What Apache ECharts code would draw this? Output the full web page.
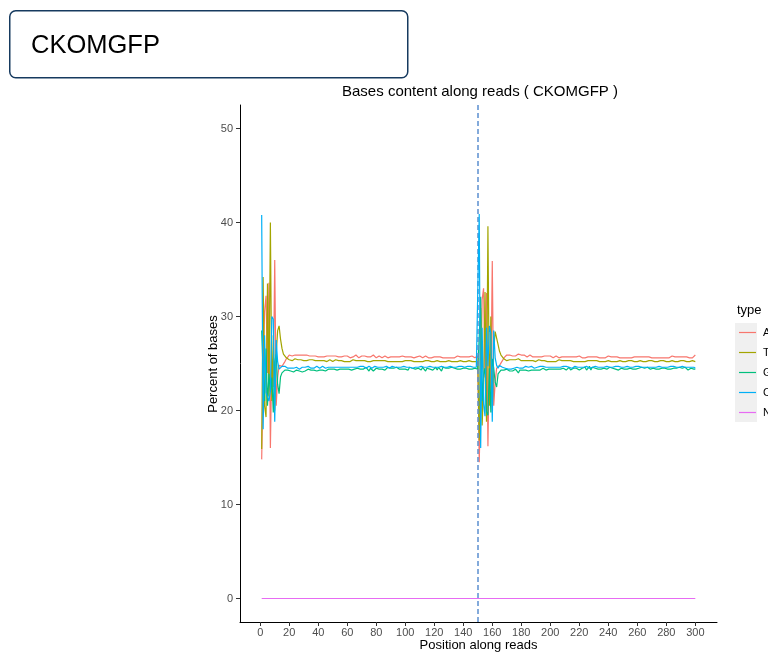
<!DOCTYPE html>
<html>
<head>
<meta charset="utf-8">
<script src="https://cdn.jsdelivr.net/npm/echarts@6/dist/echarts.min.js"></script>
<style>
  html, body { margin: 0; padding: 0; background: #ffffff; }
  #chart { width: 768px; height: 660px; }
</style>
</head>
<body>
<div id="chart"></div>
<script>
// Sample name shown in the header box and the title
const sampleName = 'CKOMGFP';

// Base types, in legend order, with their colours
const baseTypes = ['A', 'T', 'G', 'C', 'N'];
const baseColors = ['#F8766D', '#A3A500', '#00BF7D', '#00B0F6', '#E76BF3'];

// Read positions 1..300 (read 1 = 1..150, read 2 = 151..300)
const positions = Array.from({ length: 300 }, (_, i) => i + 1);

// Boundary between the two reads
const readBoundary = 150;

// Axis titles
const xTitle = 'Position along reads';
const yTitle = 'Percent of bases';

// Axis tick labels
const xTicks = [0, 20, 40, 60, 80, 100, 120, 140, 160, 180, 200, 220, 240, 260, 280, 300];
const yTicks = [0, 10, 20, 30, 40, 50];

// Percent of A at each position
const baseA = [
  // 1-20
  14.8, 23.8, 30.5, 32.2, 24.0, 33.6, 16.0, 25.5, 22.5, 36.0,
  20.5, 23.5, 24.8, 24.6, 24.7, 24.9, 25.2, 25.5, 25.7, 25.9,
  // 21-150
  25.9, 25.8, 26.0, 25.9, 25.8, 25.9, 26.1, 25.9, 25.8, 25.9,
  25.8, 25.9, 25.7, 25.8, 25.9, 25.8, 25.7, 25.8, 25.9, 25.7,
  25.8, 25.7, 25.8, 25.7, 25.9, 25.8, 25.7, 25.8, 25.7, 25.8,
  25.7, 25.8, 25.9, 25.7, 25.8, 25.7, 25.6, 25.8, 25.7, 25.8,
  25.7, 25.6, 25.8, 25.7, 25.8, 25.9, 25.7, 25.6, 25.7, 25.8,
  25.7, 25.8, 25.6, 25.7, 25.8, 25.7, 25.7, 25.9, 25.7, 25.6,
  25.7, 25.8, 25.7, 25.6, 25.7, 25.8, 25.7, 25.6, 25.8, 25.7,
  25.6, 25.7, 25.8, 25.7, 25.6, 25.7, 25.7, 25.8, 25.6, 25.7,
  25.8, 25.7, 25.6, 25.7, 25.8, 25.6, 25.7, 25.7, 25.6, 25.8,
  25.7, 25.6, 25.7, 25.8, 25.7, 25.6, 25.7, 25.6, 25.8, 25.7,
  25.6, 25.7, 25.6, 25.7, 25.8, 25.6, 25.7, 25.6, 25.7, 25.6,
  25.7, 25.6, 25.7, 25.6, 25.7, 25.8, 25.6, 25.7, 25.6, 25.7,
  25.6, 25.7, 25.6, 25.7, 25.6, 25.8, 25.7, 25.6, 25.7, 25.8,
  // 151-170
  14.5, 21.0, 31.8, 33.0, 23.5, 32.5, 16.2, 26.0, 22.0, 35.9,
  20.5, 23.0, 24.5, 24.6, 24.8, 25.0, 25.3, 25.6, 25.8, 25.9,
  // 171-300
  25.8, 25.9, 26.0, 25.8, 25.9, 25.8, 25.9, 26.0, 25.8, 25.9,
  25.8, 25.9, 25.8, 25.7, 25.8, 25.9, 25.8, 25.7, 25.8, 25.7,
  25.8, 25.7, 25.8, 25.7, 25.6, 25.8, 25.7, 25.8, 25.7, 25.8,
  25.7, 25.6, 25.7, 25.8, 25.7, 25.6, 25.8, 25.7, 25.6, 25.7,
  25.8, 25.7, 25.6, 25.7, 25.8, 25.7, 25.6, 25.7, 25.6, 25.8,
  25.7, 25.6, 25.7, 25.6, 25.8, 25.7, 25.6, 25.7, 25.6, 25.7,
  25.6, 25.7, 25.8, 25.6, 25.7, 25.6, 25.7, 25.6, 25.7, 25.8,
  25.6, 25.7, 25.6, 25.7, 25.6, 25.7, 25.8, 25.6, 25.7, 25.6,
  25.7, 25.6, 25.7, 25.6, 25.7, 25.6, 25.8, 25.7, 25.6, 25.7,
  25.6, 25.7, 25.6, 25.7, 25.6, 25.7, 25.6, 25.7, 25.8, 25.6,
  25.7, 25.6, 25.7, 25.6, 25.7, 25.6, 25.7, 25.6, 25.7, 25.6,
  25.7, 25.6, 25.7, 25.8, 25.6, 25.7, 25.6, 25.7, 25.6, 25.7,
  25.6, 25.7, 25.6, 25.7, 25.8, 25.6, 25.7, 25.6, 25.8, 25.9
];

// Percent of T at each position
const baseT = [
  // 1-20
  15.9, 34.2, 20.5, 19.3, 33.5, 21.5, 40.0, 21.0, 28.0, 20.0,
  26.0, 28.5, 29.0, 27.6, 26.6, 26.0, 25.8, 25.6, 25.5, 25.4,
  // 21-150
  25.4, 25.3, 25.4, 25.5, 25.3, 25.4, 25.3, 25.4, 25.5, 25.3,
  25.4, 25.3, 25.2, 25.4, 25.3, 25.4, 25.5, 25.3, 25.2, 25.3,
  25.4, 25.3, 25.2, 25.3, 25.4, 25.2, 25.3, 25.4, 25.3, 25.2,
  25.3, 25.4, 25.2, 25.3, 25.2, 25.3, 25.4, 25.2, 25.3, 25.2,
  25.3, 25.2, 25.3, 25.4, 25.2, 25.3, 25.2, 25.3, 25.2, 25.3,
  25.2, 25.3, 25.3, 25.2, 25.3, 25.2, 25.4, 25.3, 25.2, 25.3,
  25.2, 25.3, 25.2, 25.3, 25.2, 25.3, 25.2, 25.2, 25.3, 25.2,
  25.3, 25.2, 25.3, 25.2, 25.3, 25.2, 25.3, 25.2, 25.2, 25.3,
  25.2, 25.3, 25.2, 25.3, 25.2, 25.2, 25.3, 25.2, 25.3, 25.2,
  25.3, 25.2, 25.2, 25.3, 25.2, 25.3, 25.2, 25.2, 25.3, 25.2,
  25.2, 25.3, 25.2, 25.2, 25.3, 25.2, 25.3, 25.2, 25.2, 25.3,
  25.2, 25.2, 25.3, 25.2, 25.3, 25.2, 25.2, 25.3, 25.2, 25.2,
  25.3, 25.2, 25.2, 25.3, 25.2, 25.2, 25.3, 25.2, 25.3, 25.2,
  // 151-170
  16.8, 30.9, 18.4, 22.5, 32.6, 18.8, 39.6, 20.5, 30.0, 19.8,
  26.5, 28.4, 28.2, 27.0, 26.3, 25.9, 25.7, 25.5, 25.4, 25.3,
  // 171-300
  25.3, 25.4, 25.5, 25.4, 25.3, 25.4, 25.3, 25.5, 25.4, 25.3,
  25.4, 25.3, 25.2, 25.3, 25.4, 25.3, 25.2, 25.3, 25.4, 25.2,
  25.3, 25.4, 25.2, 25.3, 25.2, 25.3, 25.4, 25.2, 25.3, 25.2,
  25.3, 25.2, 25.3, 25.2, 25.3, 25.4, 25.2, 25.3, 25.2, 25.3,
  25.2, 25.3, 25.2, 25.3, 25.2, 25.2, 25.3, 25.2, 25.3, 25.2,
  25.3, 25.2, 25.3, 25.2, 25.2, 25.3, 25.2, 25.3, 25.2, 25.3,
  25.2, 25.3, 25.2, 25.2, 25.3, 25.2, 25.3, 25.2, 25.2, 25.3,
  25.2, 25.2, 25.3, 25.2, 25.3, 25.2, 25.2, 25.3, 25.2, 25.2,
  25.3, 25.2, 25.2, 25.3, 25.2, 25.3, 25.2, 25.2, 25.3, 25.2,
  25.2, 25.3, 25.2, 25.2, 25.3, 25.2, 25.2, 25.3, 25.2, 25.3,
  25.2, 25.2, 25.3, 25.2, 25.2, 25.3, 25.2, 25.3, 25.2, 25.2,
  25.3, 25.2, 25.2, 25.3, 25.2, 25.2, 25.3, 25.2, 25.2, 25.3,
  25.2, 25.3, 25.2, 25.2, 25.3, 25.2, 25.2, 25.3, 25.2, 25.2
];

// Percent of G at each position
const baseG = [
  // 1-20
  28.5, 24.0, 21.0, 26.6, 20.5, 23.9, 22.0, 23.5, 19.8, 25.2,
  26.0, 22.8, 21.8, 23.6, 24.0, 24.2, 24.3, 24.3, 24.3, 24.2,
  // 21-150
  24.2, 24.3, 24.1, 24.2, 24.3, 24.2, 24.2, 24.2, 24.1, 24.3,
  24.2, 24.3, 24.4, 24.2, 24.3, 24.2, 24.3, 24.3, 24.2, 24.4,
  24.3, 24.4, 24.3, 24.4, 24.2, 24.3, 24.4, 24.3, 24.4, 24.3,
  24.4, 24.3, 24.3, 24.3, 24.4, 24.5, 24.4, 24.3, 24.4, 24.5,
  24.4, 24.5, 24.3, 24.4, 24.4, 24.3, 24.5, 24.5, 24.4, 24.3,
  24.4, 24.3, 24.6, 24.5, 24.2, 24.5, 24.4, 24.2, 24.4, 24.5,
  24.5, 24.4, 24.5, 24.4, 24.5, 24.3, 24.4, 24.6, 24.4, 24.5,
  24.4, 24.5, 24.3, 24.6, 24.5, 24.4, 24.4, 24.4, 24.5, 24.4,
  24.4, 24.3, 24.6, 24.4, 24.5, 24.5, 24.4, 24.4, 24.5, 24.4,
  24.3, 24.6, 24.5, 24.2, 24.5, 24.5, 24.4, 24.6, 24.3, 24.4,
  24.6, 24.3, 24.6, 24.5, 24.2, 24.6, 24.4, 24.5, 24.5, 24.5,
  24.4, 24.6, 24.4, 24.5, 24.4, 24.4, 24.4, 24.4, 24.4, 24.5,
  24.5, 24.5, 24.5, 24.4, 24.5, 24.4, 24.5, 24.5, 24.4, 24.4,
  // 151-170
  27.8, 32.1, 21.0, 23.8, 24.5, 19.9, 19.5, 24.5, 19.8, 25.5,
  24.5, 23.0, 22.5, 23.9, 24.1, 24.3, 24.4, 24.3, 24.3, 24.4,
  // 171-300
  24.5, 24.2, 24.1, 24.2, 24.3, 24.4, 24.2, 24.0, 24.3, 24.2,
  24.3, 24.2, 24.3, 24.5, 24.2, 24.3, 24.3, 24.4, 24.3, 24.5,
  24.3, 24.4, 24.3, 24.4, 24.5, 24.4, 24.3, 24.3, 24.4, 24.5,
  24.4, 24.5, 24.4, 24.5, 24.4, 24.3, 24.4, 24.5, 24.5, 24.4,
  24.3, 24.4, 24.6, 24.3, 24.5, 24.5, 24.4, 24.5, 24.5, 24.3,
  24.4, 24.5, 24.4, 24.6, 24.3, 24.4, 24.7, 24.3, 24.6, 24.4,
  24.5, 24.4, 24.4, 24.5, 24.4, 24.5, 24.5, 24.6, 24.4, 24.3,
  24.6, 24.4, 24.5, 24.5, 24.4, 24.5, 24.3, 24.5, 24.5, 24.5,
  24.4, 24.6, 24.4, 24.5, 24.5, 24.4, 24.4, 24.5, 24.4, 24.5,
  24.5, 24.4, 24.6, 24.4, 24.5, 24.4, 24.6, 24.4, 24.4, 24.4,
  24.5, 24.5, 24.4, 24.6, 24.4, 24.5, 24.5, 24.4, 24.5, 24.5,
  24.4, 24.6, 24.4, 24.3, 24.5, 24.5, 24.5, 24.4, 24.6, 24.4,
  24.5, 24.4, 24.6, 24.4, 24.3, 24.5, 24.5, 24.4, 24.4, 24.4
];

// Percent of C at each position
const baseC = [
  // 1-20
  40.8, 18.0, 28.0, 21.9, 22.0, 21.0, 22.0, 30.0, 29.7, 18.8,
  27.5, 25.2, 24.4, 24.2, 24.7, 24.9, 24.7, 24.6, 24.5, 24.5,
  // 21-150
  24.5, 24.6, 24.5, 24.4, 24.6, 24.5, 24.4, 24.5, 24.6, 24.5,
  24.6, 24.5, 24.7, 24.6, 24.5, 24.6, 24.5, 24.6, 24.7, 24.6,
  24.5, 24.6, 24.7, 24.6, 24.5, 24.7, 24.6, 24.5, 24.6, 24.7,
  24.6, 24.5, 24.6, 24.7, 24.6, 24.5, 24.6, 24.7, 24.6, 24.5,
  24.6, 24.7, 24.6, 24.5, 24.6, 24.7, 24.6, 24.6, 24.7, 24.6,
  24.7, 24.6, 24.5, 24.6, 24.7, 24.6, 24.5, 24.6, 24.7, 24.6,
  24.6, 24.5, 24.6, 24.7, 24.6, 24.6, 24.7, 24.6, 24.5, 24.6,
  24.7, 24.6, 24.6, 24.5, 24.6, 24.7, 24.6, 24.6, 24.7, 24.6,
  24.6, 24.7, 24.6, 24.6, 24.5, 24.7, 24.6, 24.7, 24.6, 24.6,
  24.7, 24.6, 24.6, 24.7, 24.6, 24.6, 24.7, 24.6, 24.6, 24.7,
  24.6, 24.7, 24.6, 24.6, 24.7, 24.6, 24.6, 24.7, 24.6, 24.6,
  24.7, 24.6, 24.6, 24.7, 24.6, 24.6, 24.7, 24.6, 24.7, 24.6,
  24.6, 24.6, 24.7, 24.6, 24.7, 24.6, 24.6, 24.7, 24.6, 24.6,
  // 151-170
  40.9, 16.0, 28.8, 20.7, 19.4, 28.8, 24.7, 29.0, 28.2, 18.8,
  28.5, 25.6, 24.8, 24.5, 24.8, 24.8, 24.6, 24.6, 24.5, 24.4,
  // 171-300
  24.4, 24.5, 24.4, 24.6, 24.5, 24.4, 24.6, 24.5, 24.5, 24.6,
  24.5, 24.6, 24.7, 24.5, 24.6, 24.5, 24.7, 24.6, 24.5, 24.6,
  24.6, 24.5, 24.7, 24.6, 24.7, 24.5, 24.6, 24.7, 24.6, 24.5,
  24.6, 24.7, 24.6, 24.5, 24.6, 24.7, 24.6, 24.5, 24.7, 24.6,
  24.7, 24.6, 24.6, 24.7, 24.5, 24.6, 24.7, 24.6, 24.6, 24.7,
  24.6, 24.7, 24.6, 24.6, 24.7, 24.6, 24.5, 24.7, 24.6, 24.6,
  24.7, 24.6, 24.6, 24.7, 24.6, 24.7, 24.6, 24.6, 24.7, 24.6,
  24.6, 24.7, 24.6, 24.6, 24.7, 24.6, 24.7, 24.6, 24.6, 24.7,
  24.6, 24.6, 24.7, 24.6, 24.6, 24.7, 24.6, 24.6, 24.7, 24.6,
  24.7, 24.6, 24.6, 24.7, 24.6, 24.7, 24.6, 24.6, 24.6, 24.7,
  24.6, 24.7, 24.6, 24.6, 24.7, 24.6, 24.6, 24.7, 24.6, 24.7,
  24.6, 24.6, 24.7, 24.6, 24.7, 24.6, 24.6, 24.7, 24.6, 24.6,
  24.7, 24.6, 24.6, 24.7, 24.6, 24.7, 24.6, 24.6, 24.6, 24.5
];

// Percent of N at each position
const baseN = [
  0,0,0,0,0,0,0,0,0,0, 0,0,0,0,0,0,0,0,0,0, 0,0,0,0,0,0,0,0,0,0,
  0,0,0,0,0,0,0,0,0,0, 0,0,0,0,0,0,0,0,0,0, 0,0,0,0,0,0,0,0,0,0,
  0,0,0,0,0,0,0,0,0,0, 0,0,0,0,0,0,0,0,0,0, 0,0,0,0,0,0,0,0,0,0,
  0,0,0,0,0,0,0,0,0,0, 0,0,0,0,0,0,0,0,0,0, 0,0,0,0,0,0,0,0,0,0,
  0,0,0,0,0,0,0,0,0,0, 0,0,0,0,0,0,0,0,0,0, 0,0,0,0,0,0,0,0,0,0,
  0,0,0,0,0,0,0,0,0,0, 0,0,0,0,0,0,0,0,0,0, 0,0,0,0,0,0,0,0,0,0,
  0,0,0,0,0,0,0,0,0,0, 0,0,0,0,0,0,0,0,0,0, 0,0,0,0,0,0,0,0,0,0,
  0,0,0,0,0,0,0,0,0,0, 0,0,0,0,0,0,0,0,0,0, 0,0,0,0,0,0,0,0,0,0,
  0,0,0,0,0,0,0,0,0,0, 0,0,0,0,0,0,0,0,0,0, 0,0,0,0,0,0,0,0,0,0,
  0,0,0,0,0,0,0,0,0,0, 0,0,0,0,0,0,0,0,0,0, 0,0,0,0,0,0,0,0,0,0
];

const baseValues = [baseA, baseT, baseG, baseC, baseN];

const FONT = '"Liberation Sans", Arial, Helvetica, sans-serif';

const chart = echarts.init(document.getElementById('chart'), null, { renderer: 'canvas' });

const series = baseTypes.map((name, k) => ({
  name: name,
  type: 'line',
  data: positions.map((p, i) => [p, baseValues[k][i]]),
  showSymbol: false,
  symbol: 'none',
  lineStyle: { width: 1.2, color: baseColors[k] },
  itemStyle: { color: baseColors[k] },
  z: 2 + k,
  animation: false
}));

// Dashed marker at the read boundary
series.push({
  name: 'boundary',
  type: 'line',
  data: [],
  silent: true,
  markLine: {
    silent: true,
    symbol: ['none', 'none'],
    label: { show: false },
    lineStyle: { color: '#5b8fcf', type: [5, 3], width: 1.5 },
    data: [{ xAxis: readBoundary }],
    animation: false
  },
  z: 10
});

const option = {
  backgroundColor: '#ffffff',
  animation: false,
  textStyle: { fontFamily: FONT },
  title: {
    text: 'Bases content along reads ( ' + sampleName + ' )',
    left: 475,
    top: 79,
    textAlign: 'center',
    textStyle: { fontFamily: FONT, fontSize: 15, fontWeight: 'normal', color: '#000000' }
  },
  grid: { left: 240, right: 51, top: 105, bottom: 38, containLabel: false },
  legend: {
    data: baseTypes,
    orient: 'vertical',
    left: 739,
    top: 326,
    padding: 0,
    icon: 'rect',
    itemWidth: 17,
    itemHeight: 1.2,
    itemGap: 7,
    textStyle: { fontFamily: FONT, fontSize: 11, color: '#000000', lineHeight: 13, padding: [0, 0, 0, 2] },
    selectedMode: false
  },
  xAxis: {
    type: 'value',
    min: -13.95,
    max: 314.95,
    splitLine: { show: false },
    axisLine: { show: true, onZero: false, lineStyle: { color: '#000000', width: 1 } },
    axisTick: { show: true, length: 4, lineStyle: { color: '#333333' }, customValues: xTicks },
    axisLabel: { fontFamily: FONT, fontSize: 11, color: '#4d4d4d', margin: 5, customValues: xTicks }
  },
  yAxis: {
    type: 'value',
    min: -2.5,
    max: 52.5,
    splitLine: { show: false },
    axisLine: { show: true, onZero: false, lineStyle: { color: '#000000', width: 1 } },
    axisTick: { show: true, length: 4, lineStyle: { color: '#333333' }, customValues: yTicks },
    axisLabel: { fontFamily: FONT, fontSize: 11, color: '#4d4d4d', margin: 7, customValues: yTicks }
  },
  graphic: [
    {
      type: 'rect',
      left: 9,
      top: 10,
      shape: { width: 398, height: 67, r: 6 },
      style: { fill: '#ffffff', stroke: '#163a5f', lineWidth: 1.5 },
      z: 1
    },
    {
      type: 'text',
      left: 31,
      top: 33,
      style: { text: sampleName, fontFamily: FONT, fontSize: 25.5, fill: '#000000' },
      z: 2
    },
    // axis titles
    {
      type: 'text',
      x: 478.5,
      y: 645,
      style: { text: xTitle, fontFamily: FONT, fontSize: 13, fill: '#000000', align: 'center', verticalAlign: 'middle' },
      z: 2
    },
    {
      type: 'text',
      x: 213,
      y: 364,
      rotation: Math.PI / 2,
      style: { text: yTitle, fontFamily: FONT, fontSize: 13, fill: '#000000', align: 'center', verticalAlign: 'middle' },
      z: 2
    },
    // legend title and key background
    {
      type: 'text',
      left: 737,
      top: 304,
      style: { text: 'type', fontFamily: FONT, fontSize: 13, fill: '#000000' },
      z: 2
    },
    {
      type: 'rect',
      left: 735,
      top: 323,
      shape: { width: 22, height: 99 },
      style: { fill: '#f0f0f0' },
      z: -1
    }
  ],
  series: series
};

chart.setOption(option);
</script>
</body>
</html>
